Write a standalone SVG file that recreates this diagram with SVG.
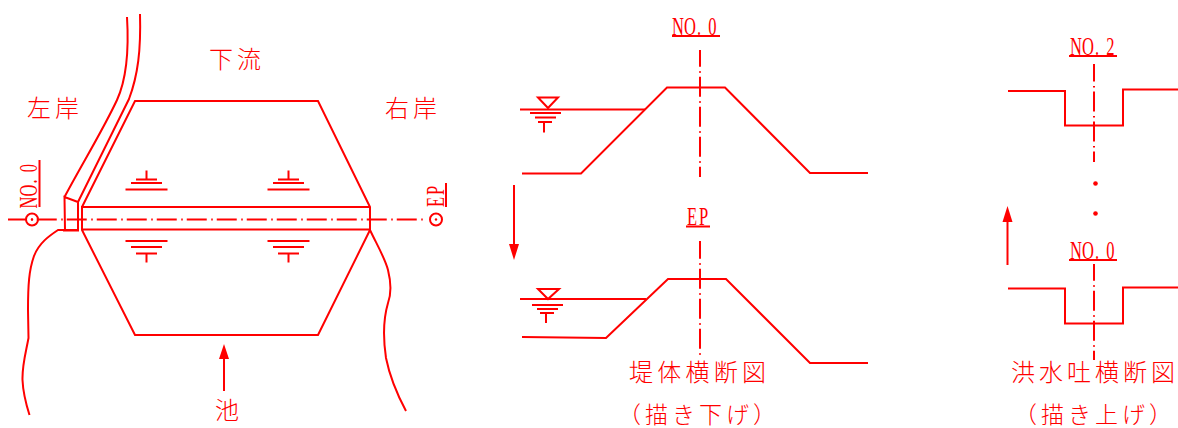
<svg xmlns="http://www.w3.org/2000/svg" width="1178" height="428" viewBox="0 0 1178 428">
<style>
.l{fill:none;stroke:#f00;stroke-width:2;stroke-linejoin:miter}
.c{fill:none;stroke:#f00;stroke-width:2;stroke-dasharray:20 4.5 1.5 4}
.h{fill:#f00;stroke:none}
.j{font-family:"Noto Sans CJK JP","Noto Sans CJK SC",sans-serif;font-size:24px;fill:#f00;font-weight:300}
.p{font-size:23px}
.n{font-family:"Liberation Serif","Liberation Mono",serif;font-size:25px;fill:#f00}
</style>
<defs>
<g id="up"><path class="l" d="M0 -9V0M-10.500 0H10.500M-15.500 3.500H15.500M-21 10H21"/></g>
<g id="dn"><path class="l" d="M-21 0H21M-15.500 6H15.500M-10.500 12.500H10.500M0 12.500V21.500"/></g>
<g id="wl"><path class="l" d="M-8 0H12L2 10.500ZM-16 15.500H15M-11 20H10M-8 24.500H6M-2 25V35"/></g>
</defs>
<g id="plan">
<g id="bank-left"><path class="l" d="M127 17C129 50 127 78 117 100C103 130 82 164 64.500 197"/><path class="l" d="M140 14C141 50 138 75 129 99L78 202"/><path class="l" d="M64.500 197L65 230H78V202ZM63 230.500H79"/><path class="l" d="M65 230H58C49 236 39 243 34 256C29 270 28 285 28 310L28.500 338C26 352 22 365 22.500 380C23 392 26 404 29.500 415"/></g>
<g id="bank-right"><path class="l" d="M370 230C376 243 385 258 388 270C391 282 392 292 388 303C383 320 383 338 386 358C390 378 398 396 406 411"/></g>
<g id="dam"><path class="l" d="M82 207L135 101H318L370 207V230L318 335H135L82 230V207H370M82 229.500H370"/></g>
<g id="axis"><path class="c" stroke-dashoffset="1.250" d="M8 219.500H423"/>
<circle class="l" cx="32" cy="219.500" r="6"/><circle class="h" cx="32" cy="219.500" r="1.200"/>
<circle class="l" cx="436" cy="219.500" r="6"/><circle class="h" cx="436" cy="219.500" r="1.200"/></g>
<g id="sym1"><use href="#up" x="146.500" y="179.500"/></g>
<g id="sym2"><use href="#up" x="288.500" y="179.500"/></g>
<g id="sym3"><use href="#dn" x="146.500" y="241"/></g>
<g id="sym4"><use href="#dn" x="288.500" y="241"/></g>
<g id="no0-mark"><text class="n" transform="translate(36.500 208.500) rotate(-90) scale(.66 1)" x="0 18 38 55">NO.0</text><path class="l" d="M39.500 160V207"/></g>
<g id="ep-mark"><text class="n" transform="translate(444 207) rotate(-90) scale(.66 1)" x="0 18">EP</text><path class="l" d="M446 183V207"/></g>
<g id="pond-arrow"><path class="l" d="M224 391V358"/><path class="h" d="M224 344L229 359H219Z"/></g>
<g id="label-shimo"><text class="j" x="209" y="68" textLength="52">下流</text></g>
<g id="label-left"><text class="j" x="27" y="117" textLength="52">左岸</text></g>
<g id="label-right"><text class="j" x="385" y="117" textLength="52">右岸</text></g>
<g id="label-ike"><text class="j" x="215" y="419">池</text></g>
</g>
<g id="dam-section">
<g id="section-no0"><text class="n" transform="translate(672 34.500) scale(.66 1)" x="0 18 38 55">NO.0</text><path class="l" d="M672 36H720"/>
<path class="c" stroke-dashoffset="3.250" d="M700 50V177"/>
<path class="l" d="M522 173.500H581L667 87.500H725L810 173H868"/><path class="l" d="M520 109.500H645"/><use href="#wl" x="546" y="97.500"/></g>
<g id="section-ep"><text class="n" transform="translate(687 225) scale(.66 1)" x="0 18">EP</text><path class="l" d="M686 226.500H710"/>
<path class="c" stroke-dashoffset="2.250" d="M700 241V356"/>
<path class="l" d="M522 337L606 338L668 279H726L810 363H868"/><path class="l" d="M520 299H646"/>
<path class="l" d="M538 289H559L548 299ZM532 305H563M537 309H558M540 313H554M546 313V323"/></g>
<g id="down-arrow"><path class="l" d="M514 185V246"/><path class="h" d="M514 260L519 244H509Z"/></g>
<g id="title-dam"><text class="j" x="629" y="381" textLength="137">堤体横断図</text><text class="j p" x="618" y="423" textLength="158">（描き下げ）</text></g>
</g>
<g id="spillway-section">
<g id="section-no2"><text class="n" transform="translate(1070 54.500) scale(.66 1)" x="0 18 38 55">NO.2</text><path class="l" d="M1069 56H1117"/>
<path class="c" stroke-dashoffset="2.500" d="M1094 64V162"/>
<path class="l" d="M1008 91H1065V125.500H1123V89.500H1178"/></g>
<g id="section-no0b"><text class="n" transform="translate(1070 258.500) scale(.66 1)" x="0 18 38 55">NO.0</text><path class="l" d="M1069 260H1117"/>
<path class="c" stroke-dashoffset="3.250" d="M1094 264V360"/>
<path class="l" d="M1008 288.500H1065V323.500H1123V287.500H1178"/></g>
<g id="dots"><circle class="h" cx="1095.500" cy="183.500" r="2.300"/><circle class="h" cx="1095.500" cy="213.500" r="2.300"/></g>
<g id="up-arrow"><path class="l" d="M1007.500 265V220"/><path class="h" d="M1007.500 206L1012.500 222H1002.500Z"/></g>
<g id="title-spill"><text class="j" x="1011" y="381" textLength="164">洪水吐横断図</text><text class="j p" x="1014" y="423" textLength="158">（描き上げ）</text></g>
</g>
</svg>
